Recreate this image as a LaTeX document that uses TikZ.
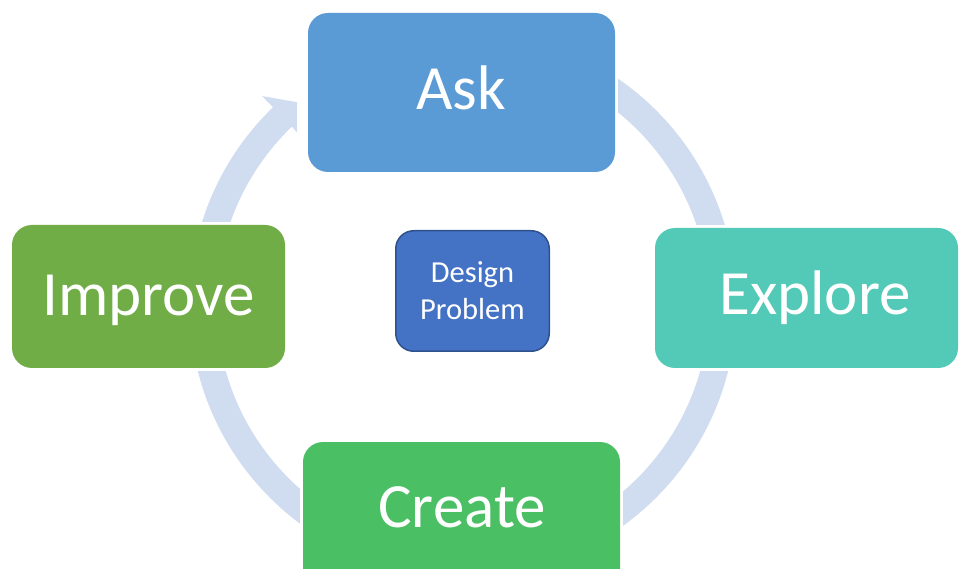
\documentclass[tikz,border=0pt]{standalone}
\usepackage{fontspec}
\setmainfont{Carlito}
\definecolor{askblue}{HTML}{5B9BD5}
\definecolor{exploreteal}{HTML}{53C9B7}
\definecolor{creategreen}{HTML}{4ABF63}
\definecolor{improvegreen}{HTML}{70AD47}
\definecolor{problemblue}{HTML}{4472C4}
\definecolor{problemedge}{HTML}{2F528F}
\definecolor{ringblue}{HTML}{D0DCEF}
\pgfdeclarelayer{background}
\pgfsetlayers{background,main}
\begin{document}
\begin{tikzpicture}[x=1pt,y=-1pt,
  stagebox/.style={rectangle, rounded corners=20pt, inner sep=0pt, draw=none},
  stagetext/.style={text=white, font=\fontsize{63}{63}\selectfont, inner sep=0pt, anchor=base},
  ringband/.style={draw=ringblue, line width=27pt},
  gap/.style={fill=white}]
\useasboundingbox (0,0) rectangle (959,569);
\clip (0,0) rectangle (959,569);

% the four stages of the cycle
\node[stagebox, fill=askblue, minimum width=307pt, minimum height=159pt] (ask) at (461.5,92.5) {};
\node[stagebox, fill=exploreteal, minimum width=303pt, minimum height=140pt] (explore) at (806.5,298) {};
\node[stagebox, fill=creategreen, minimum width=317pt, minimum height=158pt] (create) at (461.5,521) {};
\node[stagebox, fill=improvegreen, minimum width=273pt, minimum height=143pt] (improve) at (148.5,296.5) {};

\node[stagetext] (asklabel) at (461,110) {Ask};
\node[stagetext] (explorelabel) at (815,315) {Explore};
\node[stagetext] (createlabel) at (462,527) {Create};
\node[stagetext] (improvelabel) at (148.5,316) {Improve};

% centre box
\node[rectangle, rounded corners=18pt, draw=problemedge, line width=1.5pt, fill=problemblue,
      minimum width=153.5pt, minimum height=120.5pt, inner sep=0pt, align=center,
      text=white, font=\fontsize{30.5}{37}\selectfont] (problem) at (472.5,291) {Design\\Problem};

% circular arrow behind the stages
\coordinate (c) at (463,304);
\begin{pgfonlayer}{background}
  \draw[ringband] (c) ++(-133.5:260) arc[start angle=-133.5, end angle=-420, radius=260];
  \foreach \n in {ask,explore,create,improve}
    \fill[gap] ([shift={(-3,-3)}]\n.north west) rectangle ([shift={(3,3)}]\n.south east);
  \fill[ringblue] (262.2,96.1) -- (297,102.2) -- (297,132.5) -- (291.8,126.7) -- cycle;
\end{pgfonlayer}
\end{tikzpicture}
\end{document}
